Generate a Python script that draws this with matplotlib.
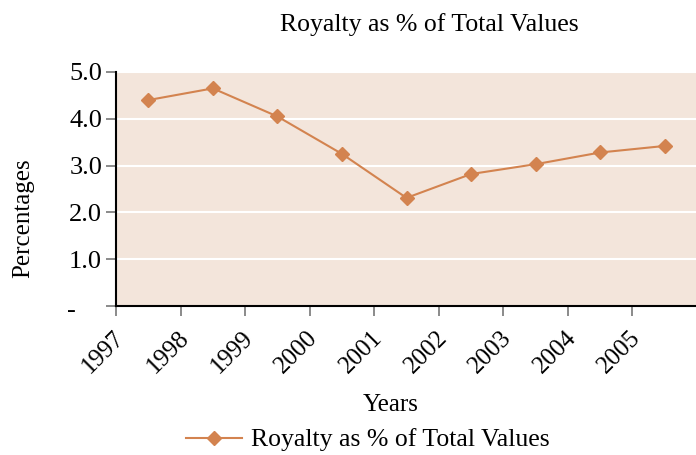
import matplotlib.pyplot as plt
import matplotlib.transforms as mtransforms
import numpy as np

years = ["1997", "1998", "1999", "2000", "2001", "2002", "2003", "2004", "2005"]
royalty = [4.40, 4.65, 4.05, 3.25, 2.31, 2.82, 3.03, 3.28, 3.42]
ytick_vals = [0, 1, 2, 3, 4, 5]
ytick_labels = ["-", "1.0", "2.0", "3.0", "4.0", "5.0"]

plt.rcParams['font.family'] = ['Liberation Serif', 'DejaVu Serif']

fig = plt.figure(figsize=(6.96, 4.55), dpi=100)
ax = fig.add_axes([116/696, 1 - 306/455, 581/696, 234/455])
ax.set_facecolor('#F3E5DB')

x = np.arange(len(years)) + 0.5
color = '#D3834F'
ax.plot(x, royalty, color=color, lw=1.5, marker='D', markersize=7,
        label='Royalty as % of Total Values', zorder=3)

ax.set_xlim(0, len(years))
ax.set_ylim(0, 5)
ax.set_xticks(np.arange(len(years)))
ax.set_xticklabels(years, rotation=45, ha='right', va='top', rotation_mode='anchor',
                   fontsize=18)
ax.set_yticks(ytick_vals)
ax.set_yticklabels(ytick_labels, fontsize=19)
for v in ytick_vals[1:]:
    ax.axhline(v, color='white', lw=1.5, zorder=1)

ax.tick_params(axis='both', color='#777777', length=7, width=1.2, direction='out')
ax.tick_params(axis='x', pad=8)
ax.tick_params(axis='y', pad=3)
for s in ['top', 'right']:
    ax.spines[s].set_visible(False)
for s in ['left', 'bottom']:
    ax.spines[s].set_color('black')
    ax.spines[s].set_linewidth(1.5)

# shift the "-" zero label to the left, as in accounting format
lbl0 = ax.get_yticklabels()[0]
lbl0.set_transform(lbl0.get_transform() +
                   mtransforms.ScaledTranslation(-26/100, -3/100, fig.dpi_scale_trans))
# nudge x labels so their ends meet the ticks
for lbl in ax.get_xticklabels():
    lbl.set_transform(lbl.get_transform() +
                      mtransforms.ScaledTranslation(-3/100, 0, fig.dpi_scale_trans))

fig.text(429/696, 1 - 25/455, 'Royalty as % of Total Values', ha='center', va='center', fontsize=18.5)
fig.text(391/696, 1 - 405/455, 'Years', ha='center', va='center', fontsize=18)
fig.text(23/696, 1 - 218/455, 'Percentages', ha='center', va='center', rotation=90, fontsize=18)

fig.legend(loc='center', bbox_to_anchor=(368/696, 1 - 440/455), frameon=False,
           fontsize=18.5, handlelength=2.2, handletextpad=0.35)

fig.savefig('out.png', dpi=100)
